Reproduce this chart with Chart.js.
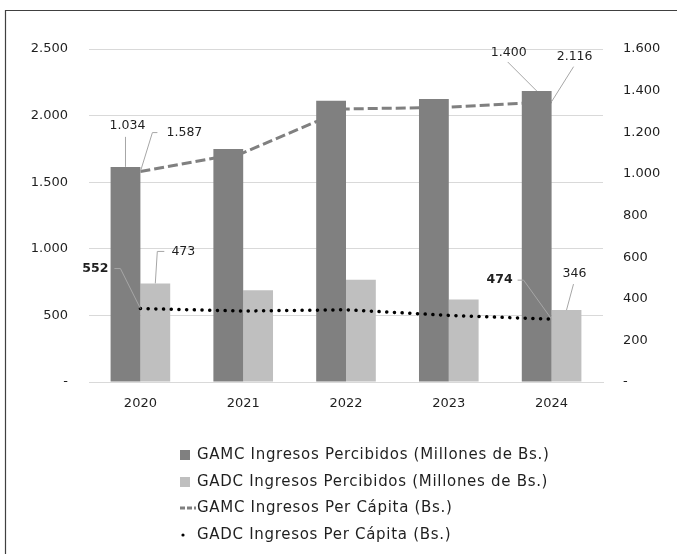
<!DOCTYPE html>
<html>
<head>
<meta charset="utf-8">
<script src="https://cdn.jsdelivr.net/npm/chart.js@4"></script>
<style>
  html, body { margin: 0; padding: 0; background: #fff; }
</style>
</head>
<body>
<canvas id="myChart" width="677" height="554"></canvas>
<script>
// datos
const years = ['2020', '2021', '2022', '2023', '2024'];
const gamcIngresos = [1615, 1749, 2112, 2125, 2185];
const gadcIngresos = [740, 688, 768, 620, 540];
const gamcPerCapita = [1011, 1101, 1312, 1320, 1347];
const gadcPerCapita = [353, 341, 347, 320, 302];
const seriesNames = [
  'GAMC Ingresos Percibidos (Millones de Bs.)',
  'GADC Ingresos Percibidos (Millones de Bs.)',
  'GAMC Ingresos Per Cápita (Bs.)',
  'GADC Ingresos Per Cápita (Bs.)'
];
const leftMax = 2500, leftStep = 500;
const rightMax = 1600, rightStep = 200;

// etiquetas de datos tal como aparecen
const dataLabels = [
  { ds: 0, i: 0, text: '1.034', dx: 2, dy: -41, leader: [[0, -30]] },
  { ds: 2, i: 0, text: '1.587', dx: 44, dy: -39, leader: [[12, -39], [17, -39]] },
  { ds: 0, i: 4, text: '1.400', dx: -28, dy: -38, leader: [[-29, -29]] },
  { ds: 2, i: 4, text: '2.116', dx: 23, dy: -45, leader: [[22, -35]] },
  { ds: 3, i: 0, text: '552', bold: true, dx: -45, dy: -40, leader: [[-20, -40], [-26, -40]] },
  { ds: 1, i: 0, text: '473', dx: 28, dy: -32, leader: [[2, -32], [9, -32]] },
  { ds: 3, i: 4, text: '474', bold: true, dx: -52, dy: -39, leader: [[-28, -39], [-34, -39]] },
  { ds: 1, i: 4, text: '346', dx: 8, dy: -36, leader: [[7, -26]] }
];

const FONT = '"DejaVu Sans", sans-serif';
const textColor = '#1f1f1f';

function fmt(v) {
  if (v === 0) return '-';
  return String(v).replace(/\B(?=(\d{3})+(?!\d))/g, '.');
}

const labelPlugin = {
  id: 'labelPlugin',
  afterDatasetsDraw(chart) {
    const c = chart.ctx;
    dataLabels.forEach(l => {
      const el = chart.getDatasetMeta(l.ds).data[l.i];
      const ax = el.x, ay = el.y;
      c.save();
      c.strokeStyle = '#a6a6a6';
      c.lineWidth = 1;
      c.beginPath();
      c.moveTo(ax, ay);
      l.leader.forEach(p => c.lineTo(ax + p[0], ay + p[1]));
      c.stroke();
      c.font = (l.bold ? 'bold ' : '') + '12.5px ' + FONT;
      c.fillStyle = textColor;
      c.textAlign = 'center';
      c.textBaseline = 'middle';
      c.fillText(l.text, ax + l.dx, ay + l.dy);
      c.restore();
    });
  }
};

const legendPlugin = {
  id: 'legendPlugin',
  afterDraw(chart) {
    const c = chart.ctx;
    const x0 = 180, tx = 197;
    const rows = [455, 482, 508, 535];
    c.save();
    chart.data.datasets.forEach((ds, k) => {
      const y = rows[k];
      if (ds.type === 'line') {
        c.strokeStyle = ds.borderColor;
        c.lineWidth = ds.borderWidth;
        if (k === 2) {
          c.setLineDash([5, 2]);
          c.beginPath(); c.moveTo(x0, y); c.lineTo(x0 + 16, y); c.stroke();
          c.setLineDash([]);
        } else {
          c.fillStyle = ds.borderColor;
          c.beginPath(); c.arc(x0 + 3, y, 1.6, 0, Math.PI * 2); c.fill();
        }
      } else {
        c.fillStyle = ds.backgroundColor;
        c.fillRect(x0, y - 5, 10, 10);
      }
      c.font = '15px ' + FONT;
      c.letterSpacing = '0.7px';
      c.fillStyle = textColor;
      c.textAlign = 'left';
      c.textBaseline = 'middle';
      c.fillText(ds.label, tx, y);
      c.letterSpacing = '0px';
    });
    // marco
    c.strokeStyle = '#404040';
    c.lineWidth = 1.2;
    c.beginPath();
    c.moveTo(5.5, 554);
    c.lineTo(5.5, 10.5);
    c.lineTo(677, 10.5);
    c.stroke();
    c.restore();
  }
};

const ctx = document.getElementById('myChart').getContext('2d');
const myChart = new Chart(ctx, {
  data: {
    labels: years,
    datasets: [
      {
        type: 'bar', label: seriesNames[0], data: gamcIngresos,
        backgroundColor: '#808080', yAxisID: 'y', order: 2,
        categoryPercentage: 0.58, barPercentage: 1.0
      },
      {
        type: 'bar', label: seriesNames[1], data: gadcIngresos,
        backgroundColor: '#bfbfbf', yAxisID: 'y', order: 2,
        categoryPercentage: 0.58, barPercentage: 1.0
      },
      {
        type: 'line', label: seriesNames[2], data: gamcPerCapita,
        borderColor: '#808080', borderWidth: 3, borderDash: [10, 4],
        pointRadius: 0, tension: 0, fill: false, yAxisID: 'y1', order: 1
      },
      {
        type: 'line', label: seriesNames[3], data: gadcPerCapita,
        borderColor: '#000000', borderWidth: 3.5, borderDash: [0.1, 7.6],
        borderCapStyle: 'round',
        pointRadius: 0, tension: 0, fill: false, yAxisID: 'y1', order: 1
      }
    ]
  },
  options: {
    responsive: false,
    animation: false,
    layout: { padding: { top: 49, left: 0, right: 0, bottom: 0 } },
    plugins: {
      legend: { display: false },
      tooltip: { enabled: false }
    },
    scales: {
      x: {
        grid: { display: false },
        border: { color: '#d9d9d9' },
        ticks: { color: textColor, font: { family: FONT, size: 13 }, padding: 6 },
        afterFit(s) { s.height = 172; }
      },
      y: {
        position: 'left',
        min: 0, max: leftMax,
        grid: { color: '#d9d9d9', drawTicks: false },
        border: { display: false },
        ticks: {
          stepSize: leftStep, color: textColor,
          font: { family: FONT, size: 13 }, padding: 21,
          callback: v => fmt(v)
        },
        afterFit(s) { s.width = 89; }
      },
      y1: {
        position: 'right',
        min: 0, max: rightMax,
        grid: { display: false, drawTicks: false },
        border: { display: false },
        ticks: {
          stepSize: rightStep, color: textColor,
          font: { family: FONT, size: 13 }, padding: 20,
          callback: v => fmt(v)
        },
        afterFit(s) { s.width = 74; }
      }
    }
  },
  plugins: [labelPlugin, legendPlugin]
});
</script>
</body>
</html>
